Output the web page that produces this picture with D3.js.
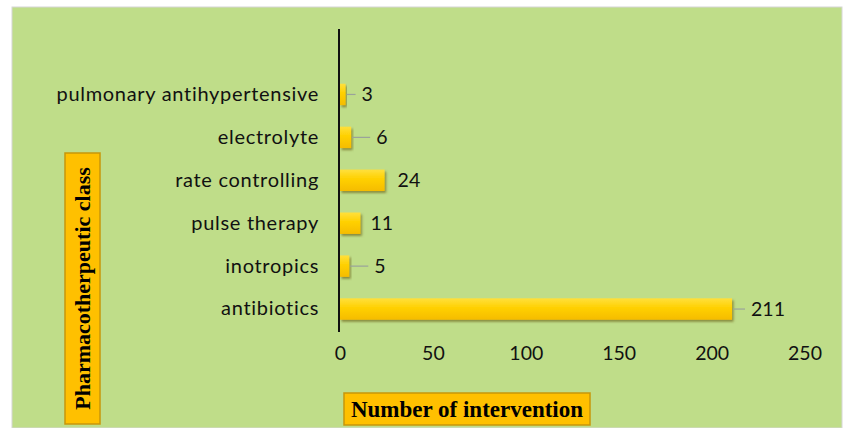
<!DOCTYPE html>
<html>
<head>
<meta charset="utf-8">
<script src="https://cdn.jsdelivr.net/npm/d3@7"></script>
<style>
  body { margin: 0; background: #fff; }
  svg { display: block; }
</style>
</head>
<body>
<div id="chart"></div>
<script>
// data, top row first
var categories = ["pulmonary antihypertensive", "electrolyte", "rate controlling", "pulse therapy", "inotropics", "antibiotics"];
var values = [3, 6, 24, 11, 5, 211];
var xTicks = [0, 50, 100, 150, 200, 250];

// label gap (px after bar end), the far ones get a leader line
var labelGap = [16, 25, 13, 10, 25, 19];

var W = 848, H = 428;
var font = "Lato, 'Open Sans', sans-serif";

var svg = d3.select("#chart").append("svg")
  .attr("width", W)
  .attr("height", H);

var defs = svg.append("defs");
var grad = defs.append("linearGradient")
  .attr("id", "barGrad")
  .attr("x1", 0).attr("y1", 0).attr("x2", 0).attr("y2", 1);
grad.append("stop").attr("offset", "0%").attr("stop-color", "#ffe03c");
grad.append("stop").attr("offset", "45%").attr("stop-color", "#ffd000");
grad.append("stop").attr("offset", "100%").attr("stop-color", "#f5bc00");

var shadow = defs.append("filter").attr("id", "shadow")
  .attr("x", "-10%").attr("y", "-20%").attr("width", "130%").attr("height", "160%");
shadow.append("feDropShadow")
  .attr("dx", 1.5).attr("dy", 2).attr("stdDeviation", 1.2)
  .attr("flood-color", "#5a4a00").attr("flood-opacity", 0.55);

// background panel
svg.append("rect")
  .attr("x", 12).attr("y", 7)
  .attr("width", 830).attr("height", H - 7)
  .attr("fill", "#bfdd89")
  .attr("stroke", "#d6d6d6")
  .attr("stroke-width", 1);

var x = d3.scaleLinear()
  .domain([0, 250])
  .range([340, 804.5]);

var y = d3.scaleBand()
  .domain(categories)
  .range([73, 330.5])
  .paddingInner(0.5)
  .paddingOuter(0.25);

var idx = d3.range(values.length);

// x axis tick labels only
var xAxis = svg.append("g")
  .attr("transform", "translate(0,332)")
  .call(d3.axisBottom(x).tickValues(xTicks).tickSize(0).tickPadding(14));
xAxis.select(".domain").remove();
xAxis.selectAll("text")
  .attr("font-family", font)
  .attr("font-size", 19.5)
  .attr("fill", "#111");

// category labels
var yAxis = svg.append("g")
  .attr("transform", "translate(340,0)")
  .call(d3.axisLeft(y).tickSize(0).tickPadding(21));
yAxis.select(".domain").remove();
yAxis.selectAll("text")
  .attr("font-family", font)
  .attr("font-size", 20)
  .attr("letter-spacing", "0.7px")
  .attr("fill", "#111");

// bars
svg.append("g")
  .selectAll("rect")
  .data(idx)
  .enter()
  .append("rect")
    .attr("x", x(0))
    .attr("y", function(i) { return y(categories[i]); })
    .attr("width", function(i) { return x(values[i]) - x(0); })
    .attr("height", y.bandwidth())
    .attr("fill", "url(#barGrad)")
    .attr("filter", "url(#shadow)");

// leader lines
svg.append("g")
  .selectAll("line")
  .data(idx.filter(function(i) { return labelGap[i] > 15; }))
  .enter()
  .append("line")
    .attr("x1", function(i) { return x(values[i]) + 1; })
    .attr("x2", function(i) { return x(values[i]) + labelGap[i] - 6; })
    .attr("y1", function(i) { return y(categories[i]) + y.bandwidth() / 2; })
    .attr("y2", function(i) { return y(categories[i]) + y.bandwidth() / 2; })
    .attr("stroke", "#9aa39a")
    .attr("stroke-width", 1.2);

// value labels
svg.append("g")
  .selectAll("text")
  .data(idx)
  .enter()
  .append("text")
    .attr("x", function(i) { return x(values[i]) + labelGap[i]; })
    .attr("y", function(i) { return y(categories[i]) + y.bandwidth() / 2; })
    .attr("dy", "0.35em")
    .attr("font-family", font)
    .attr("font-size", 19.5)
    .attr("fill", "#111")
    .text(function(i) { return values[i]; });

// vertical axis line
svg.append("line")
  .attr("x1", x(0) - 1).attr("x2", x(0) - 1)
  .attr("y1", 29).attr("y2", 332)
  .attr("stroke", "#111")
  .attr("stroke-width", 2);

// y axis title box
svg.append("rect")
  .attr("x", 65).attr("y", 153)
  .attr("width", 35).attr("height", 271)
  .attr("fill", "#ffc000")
  .attr("stroke", "#c8960a")
  .attr("stroke-width", 1.5);
svg.append("text")
  .attr("transform", "translate(90," + (153 + 271 / 2) + ") rotate(-90)")
  .attr("text-anchor", "middle")
  .attr("font-family", "'Liberation Serif', 'Times New Roman', serif")
  .attr("font-weight", "bold")
  .attr("font-size", 22)
  .attr("fill", "#000")
  .text("Pharmacotherpeutic class");

// x axis title box
svg.append("rect")
  .attr("x", 344).attr("y", 393)
  .attr("width", 246).attr("height", 32)
  .attr("fill", "#ffc000")
  .attr("stroke", "#c8960a")
  .attr("stroke-width", 1.5);
svg.append("text")
  .attr("x", 344 + 246 / 2)
  .attr("y", 409)
  .attr("dy", "0.35em")
  .attr("text-anchor", "middle")
  .attr("font-family", "'Liberation Serif', 'Times New Roman', serif")
  .attr("font-weight", "bold")
  .attr("font-size", 23)
  .attr("fill", "#000")
  .text("Number of intervention");
</script>
</body>
</html>
